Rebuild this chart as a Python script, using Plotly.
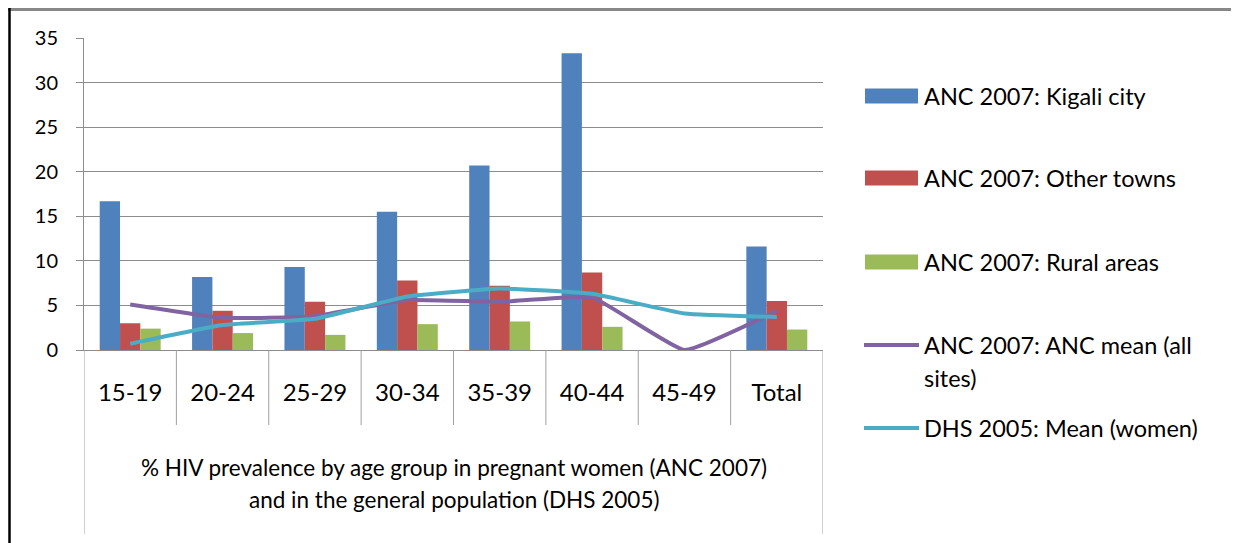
import plotly.graph_objects as go

age_groups = ["15-19", "20-24", "25-29", "30-34", "35-39", "40-44", "45-49", "Total"]
axis_title_lines = ["% HIV prevalence by age group in pregnant women (ANC 2007)",
                    "and in the general population (DHS 2005)"]

kigali = [16.7, 8.2, 9.3, 15.5, 20.7, 33.3, None, 11.6]
other_towns = [3.0, 4.4, 5.4, 7.8, 7.2, 8.7, None, 5.5]
rural = [2.4, 1.9, 1.7, 2.9, 3.2, 2.6, None, 2.3]
anc_mean = [5.1, 3.6, 3.8, 5.6, 5.4, 5.9, 0.0, 4.4]
dhs_mean = [0.7, 2.8, 3.5, 6.0, 6.9, 6.3, 4.1, 3.7]

bar_names = ["ANC 2007: Kigali city", "ANC 2007: Other towns", "ANC 2007: Rural areas"]
line_names = ["ANC 2007: ANC mean (all sites)", "DHS 2005: Mean (women)"]
bar_colors = ["#4F81BD", "#C0504D", "#9BBB59"]
line_colors = ["#8064A2", "#4BACC6"]

FONT = "Lato, Open Sans, sans-serif"
GRID = "#8C8C8C"

fig = go.Figure()
for name, vals, col in zip(bar_names, [kigali, other_towns, rural], bar_colors):
    fig.add_trace(go.Bar(x=age_groups, y=vals, name=name, marker_color=col,
                         marker_line_width=0, showlegend=False))
for name, vals, col in zip(line_names, [anc_mean, dhs_mean], line_colors):
    fig.add_trace(go.Scatter(x=age_groups, y=vals, name=name, mode="lines",
                             line=dict(color=col, width=4, shape="spline", smoothing=0.35),
                             showlegend=False))

# page places the figure 8px in from the top-left corner (body margin)
OFF = 8
W, H = 1239, 543
# plot area in screen pixels: x 84..823, y 38..350
L, R, T, B = 84, 823, 38, 350
def px(xp):
    return (xp - L) / (R - L)
def py(yp):
    return (B - yp) / (B - T)

shapes = [
    # outer frame (top grey, left black)
    dict(type="line", xref="paper", yref="paper", x0=px(OFF), x1=px(W + OFF), y0=py(9.5), y1=py(9.5),
         line=dict(color="#888888", width=3)),
    dict(type="line", xref="paper", yref="paper", x0=px(9.5), x1=px(9.5), y0=py(8), y1=py(H + OFF),
         line=dict(color="#000000", width=2.5)),
]
n = len(age_groups)
# category dividers (inner level) and outer level dividers
for i in range(1, n):
    shapes.append(dict(type="line", xref="x", yref="paper", x0=i - 0.5, x1=i - 0.5,
                       y0=py(350), y1=py(425), line=dict(color="#A0A0A0", width=1)))
for xv in (-0.5, n - 0.5):
    shapes.append(dict(type="line", xref="x", yref="paper", x0=xv, x1=xv,
                       y0=py(350), y1=py(534), line=dict(color="#A0A0A0", width=1)))

annotations = [
    dict(text=axis_title_lines[0], xref="paper", yref="paper", x=0.5, y=py(467),
         xanchor="center", yanchor="middle", showarrow=False,
         font=dict(family=FONT, size=22.5, color="#000000")),
    dict(text=axis_title_lines[1], xref="paper", yref="paper", x=0.5, y=py(499),
         xanchor="center", yanchor="middle", showarrow=False,
         font=dict(family=FONT, size=22.5, color="#000000")),
]

# legend (drawn manually to reproduce the wide swatches)
legend_rows = [
    ("bar", bar_colors[0], [bar_names[0]], 96),
    ("bar", bar_colors[1], [bar_names[1]], 178),
    ("bar", bar_colors[2], [bar_names[2]], 262),
    ("line", line_colors[0], ["ANC 2007: ANC mean (all", "sites)"], 345),
    ("line", line_colors[1], [line_names[1]], 428),
]
for kind, col, texts, yc in legend_rows:
    if kind == "bar":
        shapes.append(dict(type="rect", xref="paper", yref="paper", x0=px(865), x1=px(918),
                           y0=py(yc - 7.5), y1=py(yc + 7.5), fillcolor=col, line=dict(width=0)))
    else:
        shapes.append(dict(type="line", xref="paper", yref="paper", x0=px(864), x1=px(919),
                           y0=py(yc), y1=py(yc), line=dict(color=col, width=4)))
    for k, t in enumerate(texts):
        annotations.append(dict(text=t, xref="paper", yref="paper", x=px(922), y=py(yc + 33 * k),
                                xanchor="left", yanchor="middle", showarrow=False,
                                font=dict(family=FONT, size=23.5, color="#000000")))

fig.update_layout(
    width=W, height=H,
    margin=dict(l=L - OFF, r=W - (R - OFF), t=T - OFF, b=H - (B - OFF), pad=0),
    paper_bgcolor="white", plot_bgcolor="white",
    barmode="group", bargap=0.34, bargroupgap=0,
    font=dict(family=FONT, size=20, color="#000000"),
    showlegend=False,
    shapes=shapes,
    annotations=annotations,
)
fig.update_yaxes(range=[0, 35], dtick=5, showgrid=True, gridcolor=GRID, gridwidth=1,
                 showline=True, linecolor=GRID, linewidth=1,
                 ticks="outside", ticklen=7, tickcolor=GRID, ticklabelstandoff=14,
                 tickfont=dict(family=FONT, size=20, color="#000000"),
                 zeroline=False, automargin=False)
fig.update_xaxes(type="category", showline=True, linecolor=GRID, linewidth=1,
                 ticks="outside", ticklen=21, tickcolor="rgba(0,0,0,0)",
                 tickfont=dict(family=FONT, size=24, color="#000000"),
                 showgrid=False, automargin=False, range=[-0.5, n - 0.5])

fig.write_html("out.html")
